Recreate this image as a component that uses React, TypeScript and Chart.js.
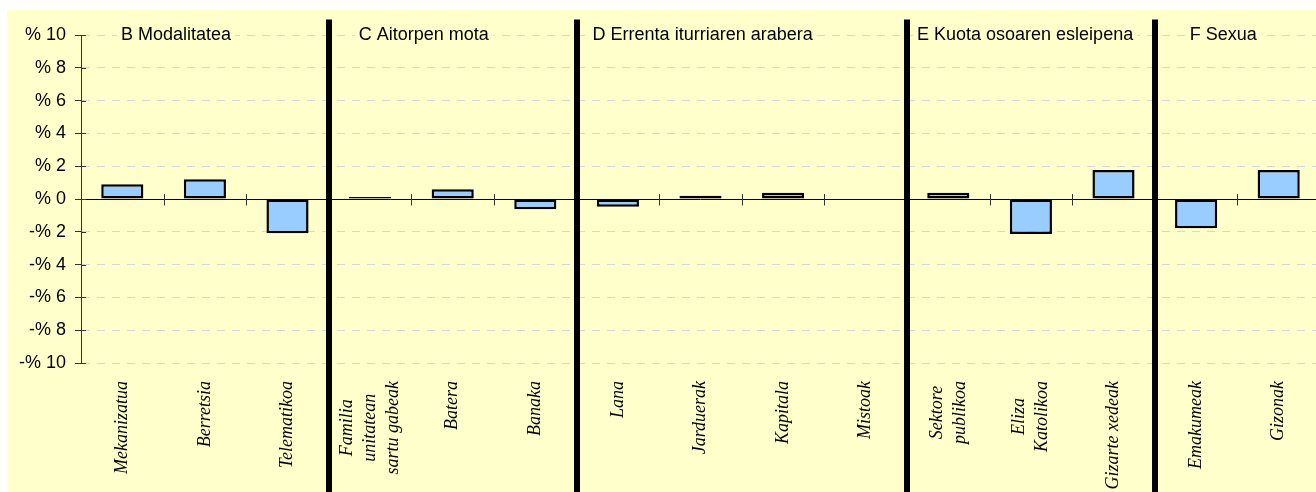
import React, { useEffect, useRef } from "react";
import { Chart, registerables } from "chart.js";

Chart.register(...registerables);

// ---- data ----
const categoryLabels: string[][] = [
  ["Mekanizatua"],
  ["Berretsia"],
  ["Telematikoa"],
  ["Familia", "unitatean", "sartu gabeak"],
  ["Batera"],
  ["Banaka"],
  ["Lana"],
  ["Jarduerak"],
  ["Kapitala"],
  ["Mistoak"],
  ["Sektore", "publikoa"],
  ["Eliza", "Katolikoa"],
  ["Gizarte xedeak"],
  ["Emakumeak"],
  ["Gizonak"],
];

const values: number[] = [
  0.9, 1.2, -2.09,
  0.12, 0.59, -0.63,
  -0.47, 0.2, 0.38, 0,
  0.38, -2.13, 1.77,
  -1.79, 1.77,
];

const groupTitles: string[] = [
  "B Modalitatea",
  "C Aitorpen mota",
  "D Errenta iturriaren arabera",
  "E Kuota osoaren esleipena",
  "F Sexua",
];
const groupSizes: number[] = [3, 3, 4, 3, 2];

const yMin = -10;
const yMax = 10;
const yStep = 2;
const formatPercent = (v: number) => (v < 0 ? `-% ${-v}` : `% ${v}`);

// ---- layout / style constants ----
const CANVAS_W = 1313;
const CANVAS_H = 482;
const BG = "#FFFFCC";
const BAR_FILL = "#99CCFF";
const GRID = "#D6D6DE";
const AXIS = "#333333";
const SANS = "'Liberation Sans', Arial, sans-serif";
const SERIF = "'Liberation Serif', 'Times New Roman', serif";
const titleOffsets = [40, 30, 16, 10, 35];

const decorPlugin = {
  id: "decor",
  beforeDraw(chart: any) {
    const { ctx, width, height } = chart;
    ctx.save();
    ctx.fillStyle = BG;
    ctx.fillRect(0, 0, width, height);
    ctx.restore();
  },
  beforeDatasetsDraw(chart: any) {
    const { ctx, chartArea } = chart;
    const xs = chart.scales.x;
    const ys = chart.scales.y;
    const y0 = Math.round(ys.getPixelForValue(0)) + 0.5;
    const half = (xs.getPixelForValue(1) - xs.getPixelForValue(0)) / 2;
    ctx.save();
    // zero line
    ctx.strokeStyle = "#000";
    ctx.lineWidth = 1;
    ctx.beginPath();
    ctx.moveTo(chartArea.left, y0);
    ctx.lineTo(chartArea.right, y0);
    ctx.stroke();
    // category tick marks crossing the zero line
    ctx.strokeStyle = AXIS;
    ctx.beginPath();
    for (let k = 1; k < categoryLabels.length; k++) {
      const bx = Math.round(xs.getPixelForValue(k) - half) + 0.5;
      ctx.moveTo(bx, y0 - 5.5);
      ctx.lineTo(bx, y0 + 6);
    }
    // inner part of y tick marks
    ys.ticks.forEach((t: any) => {
      const py = Math.round(ys.getPixelForValue(t.value)) + 0.5;
      ctx.moveTo(chartArea.left, py);
      ctx.lineTo(chartArea.left + 5, py);
    });
    ctx.stroke();
    ctx.restore();
  },
  afterDatasetsDraw(chart: any) {
    const { ctx, chartArea, height } = chart;
    const xs = chart.scales.x;
    const half = (xs.getPixelForValue(1) - xs.getPixelForValue(0)) / 2;
    ctx.save();

    // group boundaries
    let start = 0;
    groupSizes.forEach((size, g) => {
      const left = xs.getPixelForValue(start) - half;
      if (g > 0) {
        ctx.fillStyle = "#000";
        ctx.fillRect(Math.round(left) - 3, 9.5, 6, height - 9.5);
      }
      ctx.font = `18px ${SANS}`;
      ctx.textAlign = "left";
      ctx.textBaseline = "alphabetic";
      const tx = left + titleOffsets[g];
      const w = ctx.measureText(groupTitles[g]).width;
      ctx.fillStyle = BG;
      ctx.fillRect(tx - 4, 15, w + 8, 18);
      ctx.fillStyle = "#000";
      ctx.fillText(groupTitles[g], tx, 29.5);
      start += size;
    });

    // rotated category labels
    ctx.font = `italic 18px ${SERIF}`;
    ctx.fillStyle = "#000";
    ctx.textAlign = "center";
    ctx.textBaseline = "middle";
    const topY = chartArea.bottom + 18;
    const lineH = 23;
    categoryLabels.forEach((lines, i) => {
      const cx = xs.getPixelForValue(i);
      const maxW = Math.max(...lines.map((l) => ctx.measureText(l).width));
      ctx.save();
      ctx.translate(cx, topY + maxW / 2);
      ctx.rotate(-Math.PI / 2);
      lines.forEach((l, j) => {
        ctx.fillText(l, 0, (j - (lines.length - 1) / 2) * lineH);
      });
      ctx.restore();
    });
    ctx.restore();
  },
};

export default function App() {
  const canvasRef = useRef<HTMLCanvasElement | null>(null);

  useEffect(() => {
    if (!canvasRef.current) return;
    const chart = new Chart(canvasRef.current, {
      type: "bar",
      data: {
        labels: categoryLabels.map((l) => l.join(" ")),
        datasets: [
          {
            data: values,
            backgroundColor: BAR_FILL,
            borderColor: "#000",
            borderWidth: 2.5,
            borderSkipped: false,
            barPercentage: 0.51,
            categoryPercentage: 1,
          },
        ],
      },
      options: {
        responsive: false,
        animation: false,
        devicePixelRatio: 1,
        layout: { padding: { top: 25, bottom: 129, left: 0, right: 0 } },
        plugins: {
          legend: { display: false },
          tooltip: { enabled: false },
          title: { display: false },
        },
        scales: {
          x: { display: false },
          y: {
            min: yMin,
            max: yMax,
            afterFit: (s: any) => {
              s.width = 74;
            },
            ticks: {
              stepSize: yStep,
              callback: (v: any) => formatPercent(Number(v)),
              color: "#000",
              padding: 9,
              font: { family: SANS, size: 18 },
            },
            grid: {
              color: (c: any) => (c.tick && c.tick.value === 0 ? "rgba(0,0,0,0)" : GRID),
              lineWidth: 1,
              tickColor: AXIS,
              tickLength: 6,
              drawTicks: true,
            },
            border: { color: AXIS, width: 1, dash: [8, 7] },
          },
        },
      },
      plugins: [decorPlugin],
    });
    return () => chart.destroy();
  }, []);

  return (
    <div
      style={{
        position: "fixed",
        left: 7,
        top: 10,
        width: CANVAS_W,
        height: CANVAS_H,
        overflow: "hidden",
      }}
    >
      <canvas
        ref={canvasRef}
        width={CANVAS_W}
        height={CANVAS_H}
        style={{ width: CANVAS_W, height: CANVAS_H, display: "block" }}
      />
    </div>
  );
}
